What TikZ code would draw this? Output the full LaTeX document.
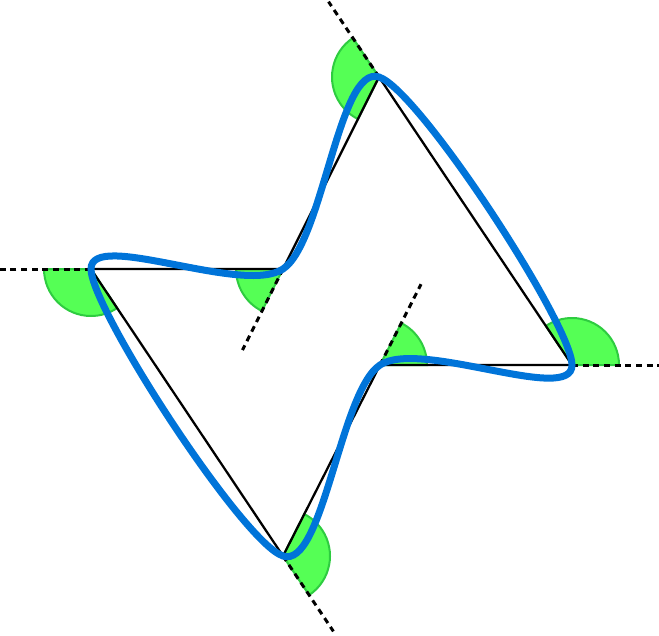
\documentclass[tikz,border=0pt]{standalone}
\usetikzlibrary{calc}
\definecolor{curveblue}{RGB}{0,116,217}
\definecolor{anglefill}{RGB}{85,255,85}
\definecolor{angledraw}{RGB}{46,204,64}
\tikzset{every picture/.style={line width=0.75pt}}
\begin{document}
\begin{tikzpicture}[x=0.75pt,y=0.75pt,yscale=-1,xscale=1,
  sector/.style={fill=anglefill,draw=angledraw,line width=1.5pt},
  side/.style={line width=1.7pt},
  extline/.style={line width=2.25pt,dash pattern=on 4.5pt off 3.5pt},
  curve/.style={draw=curveblue,line width=5.25pt}]
\useasboundingbox (0,0) rectangle (659,635);

%Vertices
\coordinate (A) at (91,269);
\coordinate (B) at (283,269);
\coordinate (C) at (379,77);
\coordinate (D) at (572,365);
\coordinate (E) at (380,365);
\coordinate (F) at (283,556);

%Exterior angles
\draw[sector] (A) -- ++(180:47) arc (180:56.22:47) -- cycle;
\draw[sector] (F) -- ++(56.22:47) arc (56.22:-63.08:47) -- cycle;
\draw[sector] (E) -- ++(-63.08:47) arc (-63.08:0:47) -- cycle;
\draw[sector] (D) -- ++(0:47) arc (0:-123.82:47) -- cycle;
\draw[sector] (C) -- ++(-123.82:47) arc (-123.82:-243.43:47) -- cycle;
\draw[sector] (B) -- ++(116.57:47) arc (116.57:180:47) -- cycle;

%Polygon
\draw[side] (A) -- (B) -- (C) -- (D) -- (E) -- (F) -- cycle;

%Extensions
\draw[extline] (A) -- ($(A)!-68pt!(B)$);
\draw[extline] (F) -- ($(F)!-68pt!(A)$);
\draw[extline] (E) -- ($(E)!-68pt!(F)$);
\draw[extline] (D) -- ($(D)!-68pt!(E)$);
\draw[extline] (C) -- ($(C)!-68pt!(D)$);
\draw[extline] (B) -- ($(B)!-68pt!(C)$);

%Smooth curve
\draw[curve] plot[smooth cycle] coordinates {(A) (B) (C) (D) (E) (F)};

\end{tikzpicture}
\end{document}
